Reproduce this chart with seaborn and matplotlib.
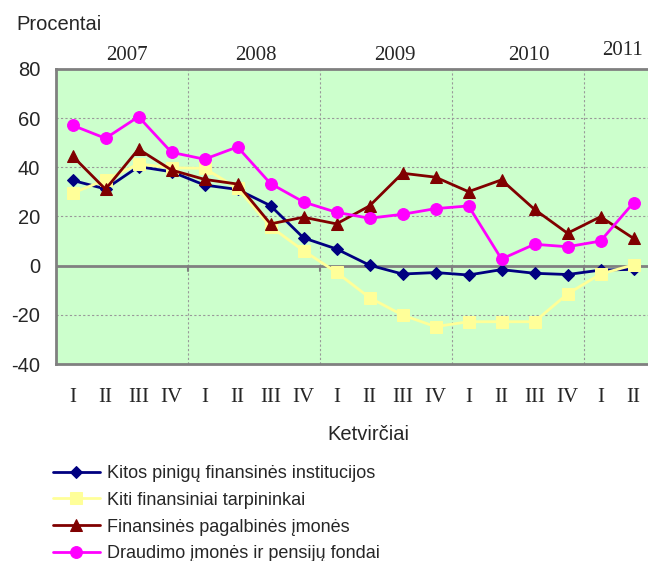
import matplotlib
matplotlib.use("Agg")
import matplotlib.pyplot as plt
import seaborn as sns
import numpy as np
import pandas as pd

quarters = ["I", "II", "III", "IV"] * 4 + ["I", "II"]
years = ["2007", "2008", "2009", "2010", "2011"]

kitos_pinigu = [34.7, 31.2, 40.3, 38.2, 32.8, 31.0, 24.4, 11.3, 6.8, 0.2,
                -3.4, -2.8, -3.8, -1.6, -3.1, -3.6, -1.8, -1.5]
kiti_tarpininkai = [29.5, 34.9, 41.4, 39.8, 39.6, 31.5, 15.9, 6.1, -2.7, -13.0,
                    -20.1, -24.8, -22.8, -22.8, -22.8, -11.5, -3.4, 0.3]
pagalbines = [44.6, 31.1, 47.4, 38.9, 35.1, 33.2, 17.0, 19.7, 17.0, 24.3,
              37.6, 36.0, 30.1, 34.9, 22.9, 13.2, 19.9, 11.1]
draudimo = [57.1, 51.8, 60.6, 46.1, 43.3, 48.3, 33.4, 25.9, 21.7, 19.3,
            20.9, 23.2, 24.3, 2.7, 8.7, 7.7, 10.0, 25.6]

series_names = ["Kitos pinigų finansinės institucijos",
                "Kiti finansiniai tarpininkai",
                "Finansinės pagalbinės įmonės",
                "Draudimo įmonės ir pensijų fondai"]
series_values = [kitos_pinigu, kiti_tarpininkai, pagalbines, draudimo]
colors = ["#000080", "#FFFF99", "#800000", "#FF00FF"]
markers = ["D", "s", "^", "o"]
msizes = [6, 8, 8, 8.5]

x = np.arange(len(quarters))

sns.set_style("white")
fig = plt.figure(figsize=(6.48, 5.61), dpi=100)
W, H = 648, 561
ax = fig.add_axes([56 / W, 1 - 364 / H, (650 - 56) / W, (364 - 69) / H])
ax.set_facecolor("#CCFFCC")

for name, vals, c, m, ms in zip(series_names, series_values, colors, markers, msizes):
    df = pd.DataFrame({"x": x, "y": vals})
    sns.lineplot(data=df, x="x", y="y", ax=ax, color=c, marker=m, markersize=ms,
                 markeredgecolor=c, linewidth=2, label=name)

ax.set_xlim(-0.5, len(quarters) - 0.5)
ax.set_ylim(-40, 80)
ax.set_yticks(range(-40, 81, 20))
ax.set_yticklabels([str(v) for v in range(-40, 81, 20)], fontsize=14.5,
                   family="Liberation Sans")
ax.set_xticks(x)
ax.set_xticklabels(quarters, fontsize=15, family="Liberation Serif")
ax.tick_params(axis="x", length=0, pad=17)
ax.tick_params(axis="y", length=4.5, width=2, color="#808080", pad=7, direction="out")
ax.set_xlabel("")
ax.set_ylabel("")

# grid
for v in [-20, 20, 40, 60]:
    ax.axhline(v, color="#999999", linestyle=(0, (2, 2)), linewidth=0.8, zorder=0)
for b in [3.5, 7.5, 11.5, 15.5]:
    ax.axvline(b, color="#999999", linestyle=(0, (2, 2)), linewidth=0.8, zorder=0)
ax.axhline(0, color="#808080", linewidth=2, zorder=1)
for b in [3.5, 7.5, 11.5, 15.5]:
    ax.plot([b, b], [0, -2], color="#808080", linewidth=1.5, zorder=1)

for side in ["left", "top", "bottom"]:
    ax.spines[side].set_color("#808080")
    ax.spines[side].set_linewidth(2)
ax.spines["right"].set_visible(False)

# year labels
year_x = [1.65, 5.56, 9.77, 13.83, 16.68]
year_y = [1.045, 1.045, 1.045, 1.045, 1.062]
for yr, yx, yy in zip(years, year_x, year_y):
    ax.text(yx, yy, yr, transform=ax.get_xaxis_transform(), ha="center", va="center",
            fontsize=15, family="Liberation Serif")

fig.text(16 / W, 1 - 24 / H, "Procentai", ha="left", va="center", fontsize=14.5,
         family="Liberation Sans")
fig.text(368 / W, 1 - 434 / H, "Ketvirčiai", ha="center", va="center", fontsize=14.5,
         family="Liberation Sans")

handles, labels = ax.get_legend_handles_labels()
ax.legend_.remove()
fig.legend(handles, labels, loc="upper left", bbox_to_anchor=(53 / W, 1 - 465 / H),
           frameon=False, handlelength=2.6, labelspacing=0.54, handletextpad=0.4,
           borderpad=0, borderaxespad=0,
           prop={"family": "Liberation Sans", "size": 13})

fig.savefig("out.png", dpi=100)
